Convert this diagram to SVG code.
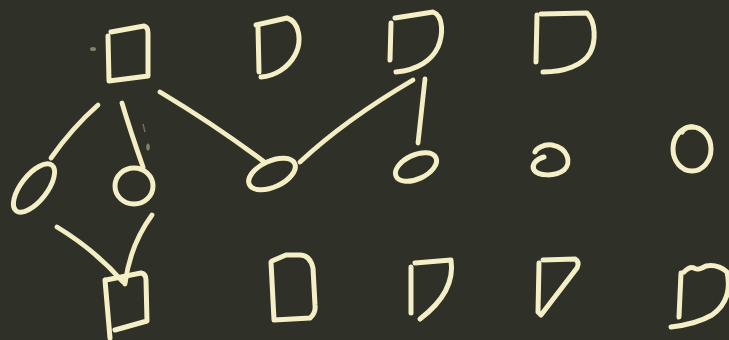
<svg xmlns="http://www.w3.org/2000/svg" width="729" height="340" viewBox="0 0 729 340">
  <defs>
    <style>
      .chalk { fill: none; stroke: #f4efc6; stroke-width: 5; stroke-linecap: round; stroke-linejoin: round; }
      .edge { fill: none; stroke: #f2edc2; stroke-width: 4.8; stroke-linecap: round; }
      .smudge { fill: #e8e3b8; opacity: 0.45; }
    </style>
  </defs>
  <rect x="0" y="0" width="729" height="340" fill="#2f3027"/>

  <!-- faint chalk marks -->
  <ellipse class="smudge" cx="93" cy="49" rx="3" ry="2"/>
  <ellipse class="smudge" cx="148" cy="147" rx="1.8" ry="3.5"/>
  <path d="M143,124 L145,132" stroke="#e8e3b8" stroke-width="1.5" opacity="0.35" fill="none"/>

  <!-- connectors -->
  <g id="connectors">
    <path class="edge" d="M98,105 Q72,128 51,158"/>
    <path class="edge" d="M122,103 Q130,130 143,167"/>
    <path class="edge" d="M160,92 Q215,125 263,161"/>
    <path class="edge" d="M413,80 Q345,120 300,162"/>
    <path class="edge" d="M425,79 L418,143"/>
    <path class="edge" d="M57,227 Q95,250 123,282"/>
    <path class="edge" d="M152,215 Q130,245 125,284"/>
  </g>

  <!-- top row -->
  <g id="top1"><path class="chalk" d="M111,32 L144,26 Q148,27 148,33 L148,76 L109,81 L108,36"/></g>
  <g id="top2">
    <path class="chalk" d="M258,27 L259,72"/>
    <path class="chalk" d="M256,25 L287,18 C300,22 302,42 295,55 C288,68 275,76 261,77"/>
  </g>
  <g id="top3">
    <path class="chalk" d="M391,23 L390,60"/>
    <path class="chalk" d="M395,18 L433,12 C444,16 443,35 438,47 C432,60 418,70 396,72"/>
  </g>
  <g id="top4">
    <path class="chalk" d="M537,15 L536,62"/>
    <path class="chalk" d="M541,14 L587,13 C596,22 596,42 590,53 C583,65 565,72 543,72"/>
  </g>

  <!-- middle row -->
  <g id="mid1"><ellipse class="chalk" cx="34" cy="188" rx="13" ry="29" transform="rotate(38 34 188)"/></g>
  <g id="mid2"><ellipse class="chalk" cx="134" cy="186" rx="19" ry="18"/></g>
  <g id="mid3"><ellipse class="chalk" cx="272" cy="174" rx="25" ry="13" transform="rotate(-25 272 174)"/></g>
  <g id="mid4"><ellipse class="chalk" cx="416" cy="167" rx="22" ry="12" transform="rotate(-25 416 167)"/></g>
  <g id="mid5"><path class="chalk" d="M544,157 C536,159 531,165 534,170 C538,176 555,177 564,170 C572,163 568,148 552,145 C543,144 536,149 535,152"/></g>
  <g id="mid6">
    <ellipse class="chalk" cx="692" cy="149" rx="19" ry="22"/>
    <path class="chalk" d="M682,132 Q686,126 693,127"/>
  </g>

  <!-- bottom row -->
  <g id="bot1">
    <path class="chalk" d="M105,280 L110,338"/>
    <path class="chalk" d="M106,280 L141,273 Q146,274 146,280 L147,321 L115,330"/>
  </g>
  <g id="bot2"><path class="chalk" d="M271,262 L274,320 L310,318 Q316,313 315,305 L313,268 Q310,255 300,255 L286,255 L272,261"/></g>
  <g id="bot3">
    <path class="chalk" d="M411,267 L411,313"/>
    <path class="chalk" d="M415,263 L451,260 C454,280 445,300 420,319"/>
  </g>
  <g id="bot4"><path class="chalk" d="M543,260 L575,259 Q580,262 577,268 L541,315 L538,312 L539,263"/></g>
  <g id="bot5">
    <path class="chalk" d="M681,273 L679,317"/>
    <path class="chalk" d="M684,272 Q690,266 694,268 Q697,271 706,266 Q718,264 727,272 C731,290 726,305 712,315 C700,322 688,325 671,327"/>
  </g>
</svg>
